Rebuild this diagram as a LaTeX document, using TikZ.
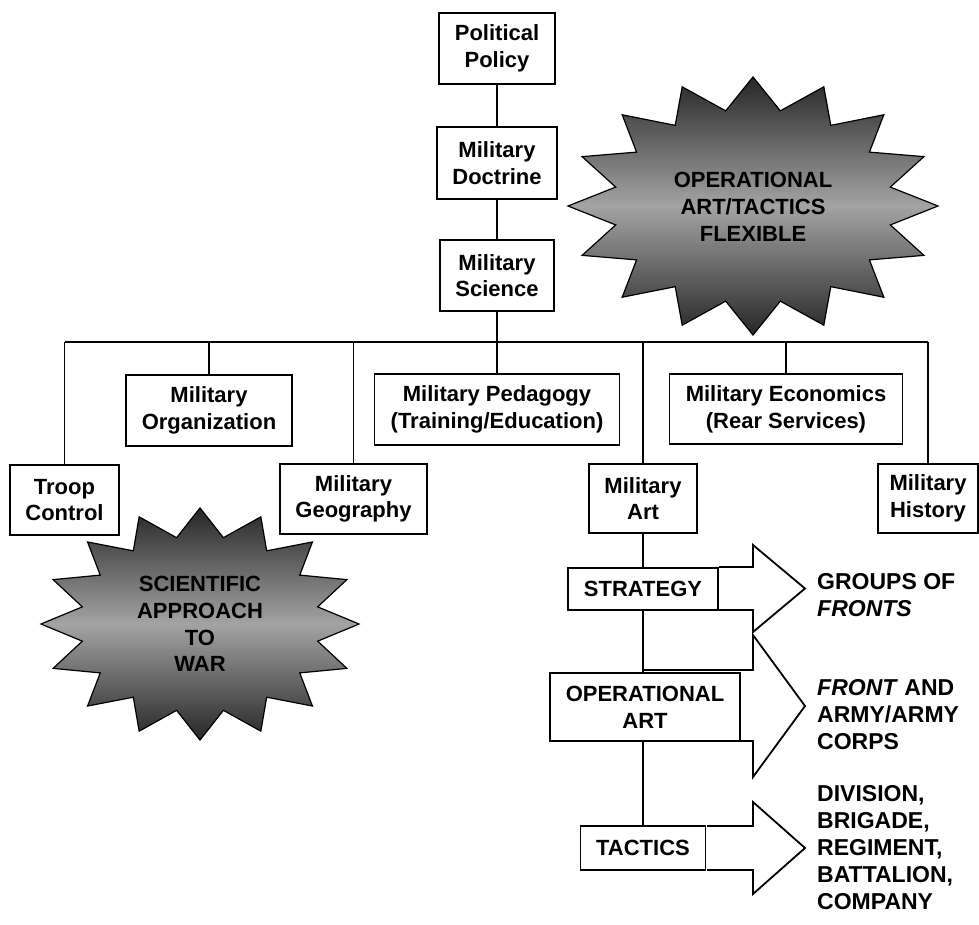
\documentclass[tikz,border=0pt]{standalone}
\usepackage{fontspec}
\setmainfont{Liberation Sans}
\newcommand\dgboxfont{\fontsize{22}{26.7}\selectfont\bfseries}
\newcommand\dgrightfont{\fontsize{23}{27}\selectfont\bfseries}
\begin{document}
\begin{tikzpicture}[x=1pt,y=-1pt,
  box/.style={draw, line width=1.8pt, inner sep=0pt, align=center, font=\dgboxfont, fill=white},
  conn/.style={line width=1.8pt},
  blockarrow/.style={draw, line width=1.8pt, fill=white, line join=miter},
  starshape/.style={draw=black, line width=1.2pt, line join=miter, top color=black!85, bottom color=black!85, middle color=black!36},
  startext/.style={font=\dgboxfont, align=center, inner sep=0pt},
  righttext/.style={font=\dgrightfont, align=left, anchor=west, inner sep=0pt}]
\useasboundingbox (0,0) rectangle (979,924);

% starbursts
\path[starshape, shift={(753,206)}] (0:185 and 129)
  \foreach \i in {0,...,15}{ -- ({\i*22.5+11.25}:140 and 97) -- ({\i*22.5+22.5}:185 and 129)} -- cycle;
\node[startext] (flex) at (753,207) {OPERATIONAL\\ART/TACTICS\\FLEXIBLE};

\path[starshape, shift={(200,624)}] (0:159 and 116)
  \foreach \i in {0,...,15}{ -- ({\i*22.5+11.25}:120 and 88) -- ({\i*22.5+22.5}:159 and 116)} -- cycle;
\node[startext] (sciwar) at (200,624) {SCIENTIFIC\\APPROACH\\TO\\WAR};

% boxes
\node[box, minimum width=116pt, minimum height=71pt] (pol) at (497,48.5) {Political\\Policy};
\node[box, minimum width=120pt, minimum height=72pt] (doc) at (497,163) {Military\\Doctrine};
\node[box, minimum width=114pt, minimum height=71pt] (sci) at (497,275.5) {Military\\Science};

\node[box, minimum width=166pt, minimum height=71pt] (org) at (209,410.5) {Military\\Organization};
\node[box, minimum width=245pt, minimum height=71pt] (ped) at (497,409.5) {Military Pedagogy\\(Training/Education)};
\node[box, minimum width=233pt, minimum height=70pt] (eco) at (786,409) {Military Economics\\(Rear Services)};

\node[box, minimum width=109pt, minimum height=70pt] (troop) at (64.5,500) {Troop\\Control};
\node[box, minimum width=147pt, minimum height=70pt] (geo) at (353.5,499) {Military\\Geography};
\node[box, minimum width=108pt, minimum height=69pt] (art) at (643,498.5) {Military\\Art};
\node[box, minimum width=100pt, minimum height=69pt] (hist) at (928,498.5) {Military\\History};

% bus coordinates
\coordinate (busL) at (64.5,342);
\coordinate (busR) at (928,342);

% connectors
\draw[conn] (pol.south) -- (doc.north);
\draw[conn] (doc.south) -- (sci.north);
\draw[conn] (sci.south) -- (sci.south |- busL);
\draw[conn] (busL) -- (busR);
\draw[conn] (busL) -- (troop.north);
\draw[conn] (org.north |- busL) -- (org.north);
\draw[conn] (ped.north |- busL) -- (ped.north);
\draw[conn] (geo.north |- busL) -- (geo.north);
\draw[conn] (art.north |- busL) -- (art.north);
\draw[conn] (eco.north |- busL) -- (eco.north);
\draw[conn] (busR) -- (hist.north);

% block arrows
\draw[blockarrow] (719,567) -- (753,567) -- (753,545) -- (805,588.5) -- (753,632) -- (753,610) -- (719,610);
\draw[blockarrow] (643,670) -- (753,670) -- (753,635) -- (805,706) -- (753,777) -- (753,741) -- (740,741);
\draw[blockarrow] (707,826) -- (753,826) -- (753,802) -- (805,848) -- (753,894) -- (753,870) -- (707,870);

% art chain
\node[box, minimum width=150pt, minimum height=42pt] (strat) at (643,589) {STRATEGY};
\node[box, minimum width=190pt, minimum height=68pt] (opart) at (645,707) {OPERATIONAL\\ART};
\node[box, minimum width=125pt, minimum height=44pt] (tact) at (643,848) {TACTICS};

\draw[conn] (art.south) -- (strat.north);
\draw[conn] (strat.south) -- (strat.south |- opart.north);
\draw[conn] (tact.north |- opart.south) -- (tact.north);

% right-hand labels
\node[righttext] (grp) at (817,595.5) {GROUPS OF\\\textit{FRONTS}};
\node[righttext] (frt) at (817,715) {\textit{FRONT} AND\\ARMY/ARMY\\CORPS};
\node[righttext] (div) at (817,847.5) {DIVISION,\\BRIGADE,\\REGIMENT,\\BATTALION,\\COMPANY};
\end{tikzpicture}
\end{document}
